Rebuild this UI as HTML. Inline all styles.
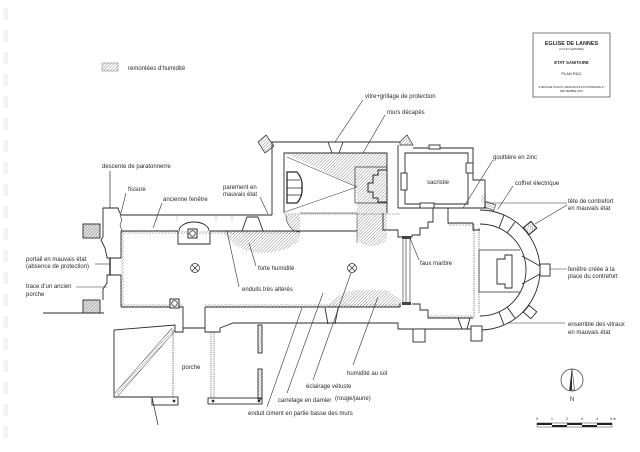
<!DOCTYPE html>
<html><head><meta charset="utf-8">
<style>
html,body{margin:0;padding:0;background:#fff;}
svg{display:block;}
text{font-family:"Liberation Sans",sans-serif;fill:#2a2a2a;}
</style></head><body>
<svg width="640" height="452" viewBox="0 0 640 452" xmlns="http://www.w3.org/2000/svg">
<defs>
<pattern id="h" patternUnits="userSpaceOnUse" width="2.2" height="2.2" patternTransform="rotate(45)">
<line x1="0" y1="0" x2="0" y2="2.2" stroke="#4a4a4a" stroke-width="0.6"/>
</pattern>
</defs>
<rect width="640" height="452" fill="#fff"/>

<!-- binding marks -->
<g fill="#f3f3f3">
<rect x="3" y="8" width="5" height="12" rx="1"/><rect x="3" y="30" width="5" height="12" rx="1"/>
<rect x="3" y="52" width="5" height="12" rx="1"/><rect x="3" y="74" width="5" height="12" rx="1"/>
<rect x="3" y="96" width="5" height="12" rx="1"/><rect x="3" y="118" width="5" height="12" rx="1"/>
<rect x="3" y="140" width="5" height="12" rx="1"/><rect x="3" y="162" width="5" height="12" rx="1"/>
<rect x="3" y="184" width="5" height="12" rx="1"/><rect x="3" y="206" width="5" height="12" rx="1"/>
<rect x="3" y="228" width="5" height="12" rx="1"/><rect x="3" y="250" width="5" height="12" rx="1"/>
<rect x="3" y="272" width="5" height="12" rx="1"/><rect x="3" y="294" width="5" height="12" rx="1"/>
<rect x="3" y="316" width="5" height="12" rx="1"/><rect x="3" y="338" width="5" height="12" rx="1"/>
<rect x="3" y="360" width="5" height="12" rx="1"/><rect x="3" y="382" width="5" height="12" rx="1"/>
<rect x="3" y="404" width="5" height="12" rx="1"/><rect x="3" y="426" width="5" height="12" rx="1"/>
</g>

<!-- legend -->
<rect x="102" y="63" width="16" height="8" fill="url(#h)" stroke="#777" stroke-width="0.5"/>
<text x="128" y="70" font-size="6">remontées d'humidité</text>

<!-- title block -->
<rect x="533" y="33" width="77" height="64" fill="none" stroke="#444" stroke-width="0.7"/>
<g text-anchor="middle">
<text x="571.5" y="45" font-size="5.5" font-weight="bold">EGLISE DE LANNES</text>
<text x="571.5" y="50" font-size="2.6">(LOT-ET-GARONNE)</text>
<text x="571.5" y="64" font-size="4.3" font-weight="bold">ETAT SANITAIRE</text>
<text x="571.5" y="75" font-size="4">PLAN RDC</text>
<text x="571.5" y="88" font-size="2.7" textLength="66" lengthAdjust="spacingAndGlyphs">STEPHANE THOUIN, ARCHITECTE DU PATRIMOINE 47</text>
<text x="571.5" y="92" font-size="2.7">SEPTEMBRE 2007</text>
</g>

<!-- hatched areas -->
<g fill="url(#h)" stroke="none">
<path d="M222,231 H300 V238 Q292,252 262,253 Q236,252 222,231 Z"/>
<path d="M285,153 H387 V236 Q386,246 370,246 Q358,245 357,236 L357,187 Z"/>
<path d="M325,307 L344,292 Q368,288 388,291 L401,300 V307 Z"/>
<rect x="121" y="231" width="179" height="3"/>
<rect x="121" y="231" width="3" height="76"/>
<rect x="121" y="304" width="62" height="3"/>
<rect x="205" y="304" width="195" height="3"/>
<rect x="428" y="315" width="45" height="3"/>
<rect x="448" y="223" width="25" height="3"/>
<path d="M286,215 H300 V232 Q288,230 286,215 Z"/>
<path d="M115,393 L172,328 L175,331 L118,396 Z"/>
</g>

<g stroke="#2a2a2a" stroke-width="0.9" fill="none" stroke-linejoin="miter">
<!-- west buttresses -->
<rect x="83" y="224" width="17" height="14" fill="#e2e2e2"/>
<rect x="83" y="224" width="17" height="14" fill="url(#h)" stroke="none"/>
<rect x="83" y="300" width="17" height="13" fill="#e2e2e2"/>
<rect x="83" y="300" width="17" height="13" fill="url(#h)" stroke="none"/>
<!-- west facade -->
<path d="M121,215 L119,211 L118,208 H103 V237 L101,240 L105,248 L107,257 V258 H121"/>
<path d="M121,231 V258"/>
<path d="M110,258 V275" stroke-width="1.4"/>
<path d="M121,275 H107 V283 L103,289 V300"/>
<path d="M121,275 V307"/>
<path d="M43,313 H104"/>
<path d="M120,215 L122,220 L120,225 L122,231" stroke-width="0.6"/>
<!-- paratonnerre descent -->
<path d="M110,171 V208" stroke-width="0.7"/>

<!-- nave north -->
<path d="M121,215 H272"/>
<path d="M121,231 H178 M210,231 H357"/>
<path d="M178,231 V244 H210 V231"/>
<path d="M179,231 A15,9 0 0 1 209,231"/>
<path d="M242,231 L247,217 H258 L263,231"/>
<path d="M157,216 V221 M177,216 V221 M216,216 V221 M232,216 V221" stroke-width="0.5" stroke="#aaa"/>
<path d="M286,215 A14,17 0 0 0 300,232" stroke-width="0.6"/>

<!-- chapel north -->
<polygon points="258,142 266,135 274,146 265,153" fill="url(#h)" stroke-width="0.7"/>
<path d="M272,215 V142 H400"/>
<polygon points="400,142 407,135 413,145 400,145" fill="url(#h)" stroke-width="0.7"/>
<path d="M284,213 V153 H387 V213"/>
<path d="M284,214 H400" stroke-dasharray="1.2,1" stroke-width="0.6"/>
<path d="M300,213 H357" stroke-width="0.5"/>
<path d="M328,142 L332,153 M343,142 L339,153 M332,142 H338" stroke-width="0.8"/>
<path d="M287,157 L357,187 M285,212 L357,187" stroke-width="0.5"/>
<path d="M287,172 H297 Q303,179 302,187 Q303,196 297,203 H287 Z" fill="#fff" stroke-width="1.3"/>
<path d="M287,180 H300 M287,188 H302 M287,195 H301" stroke-width="0.7"/>
<rect x="355" y="167" width="32" height="36" fill="none" stroke-width="0.7"/>
<path d="M387,170 H378 V175 H373 V183 H368 V192 H373 V198 H378 V202 H387" stroke-width="1"/>

<!-- sacristy -->
<path d="M398,145 V208"/>
<path d="M413,148 H473 V180 H485 V208 H398"/>
<path d="M405,153 H468 V204 H405 Z"/>
<rect x="401" y="173" width="6" height="17" fill="#fff"/>
<rect x="466" y="163" width="7" height="10" fill="#fff"/>
<rect x="429" y="145" width="11" height="4" fill="#fff"/>
<rect x="420" y="203" width="14" height="5" fill="#fff"/>

<!-- transept piers / chancel -->
<path d="M383,213 V230 H398 V237 H412 V235 H420 V228 H428 V222 H433 V208"/>
<path d="M357,213 V243" stroke-width="0.5"/>
<path d="M403,238 V303 M406,238 V303 M410,238 V303" stroke-width="0.6"/>
<rect x="402" y="236" width="9" height="3" fill="#444" stroke="none"/>
<rect x="402" y="302" width="9" height="3" fill="#444" stroke="none"/>
<path d="M412,304 H420 V310 H428 V318 H473"/>

<!-- choir & apse -->
<path d="M448,208 V223 H473 V230 H480"/>
<path d="M474,224 V318 M479,228 V313" stroke-dasharray="1.2,1" stroke-width="0.6"/>
<path d="M482,208 H487"/>
<path d="M480,224 A46,46 0 0 1 480,316"/>
<path d="M480,210 A60,60 0 0 1 480,330"/>
<path d="M499,228 L504,215 M507,233 L515,222"/>
<path d="M499,312 L504,325 M507,307 L515,318"/>
<path d="M522,256 L540,266 M522,284 L540,274"/>
<rect x="540" y="264" width="10" height="12" fill="#fff"/>
<g transform="translate(530,228) rotate(-40)"><rect x="-5" y="-4.5" width="10" height="9" fill="#fff"/><rect x="-5" y="-4.5" width="10" height="9" fill="url(#h)"/></g>
<g transform="translate(530,312) rotate(40)"><rect x="-5" y="-4.5" width="10" height="9" fill="#fff"/></g>
<g transform="translate(490,206) rotate(20)"><rect x="-5" y="-3" width="10" height="6" fill="url(#h)" stroke-width="0.6"/></g>
<rect x="481" y="195" width="5" height="8" fill="url(#h)" stroke="none"/>
<path d="M479,250 H520 M479,292 H520 M479,250 V292" stroke-width="0.7"/>
<path d="M512,255 H505 V259 H497 V284 H505 V288 H512 Z"/>

<!-- nave south -->
<path d="M121,307 H183 V332 H175 V325 L114,330 V397 H152"/>
<path d="M183,328 H205"/>
<path d="M205,307 H400 V303"/>
<path d="M205,307 V332 H220 V328 L233,323 H398 V329 H471"/>
<path d="M325,308 L328,324 M338,308 L335,324"/>
<rect x="413" y="329" width="12" height="13" fill="#fff"/>
<rect x="471" y="326" width="11" height="15" fill="#fff"/>
<path d="M458,318 L462,329 M470,318 L467,329"/>
<!-- porch -->
<path d="M173,330 V397" stroke-dasharray="1.2,1" stroke-width="0.7"/>
<path d="M115,393 L172,328 M118,396 L175,331" stroke-width="0.5"/>
<rect x="152" y="397" width="26" height="8" fill="#fff"/>
<circle cx="174" cy="401" r="0.9" fill="#2a2a2a"/>
<path d="M152,397 L158,425" stroke-width="0.7"/>
<!-- right porch structure -->
<path d="M211,332 V398 M214,332 V398" stroke-dasharray="1.2,1" stroke-width="0.6"/>
<rect x="208" y="398" width="54" height="6" fill="#fff"/>
<circle cx="213" cy="401" r="0.9" fill="#2a2a2a"/>
<circle cx="259" cy="401" r="0.9" fill="#2a2a2a"/>
<rect x="258" y="325" width="4" height="28" fill="url(#h)"/>
<rect x="258" y="369" width="4" height="30" fill="url(#h)"/>

<!-- symbols -->
<circle cx="195" cy="268" r="4.5" stroke-width="0.7"/>
<path d="M191.8,264.8 L198.2,271.2 M198.2,264.8 L191.8,271.2" stroke-width="0.7"/>
<circle cx="352" cy="268" r="4.5" stroke-width="0.7"/>
<path d="M348.8,264.8 L355.2,271.2 M355.2,264.8 L348.8,271.2" stroke-width="0.7"/>
<rect x="188" y="229" width="9" height="9" fill="#fff" stroke-width="1"/>
<circle cx="192.5" cy="233.5" r="2.8" stroke-width="0.8"/>
<rect x="170" y="299" width="9" height="9" fill="#fff" stroke-width="1"/>
<circle cx="174.5" cy="303.5" r="2.8" stroke-width="0.8"/>
</g>

<!-- leader lines -->
<g stroke="#333" stroke-width="0.6" fill="none">
<path d="M126,193 L121,213"/>
<path d="M162,203 L153,228"/>
<path d="M260,197 L268,214"/>
<path d="M256,266 L249,243"/>
<path d="M239,287 L227,231"/>
<path d="M95,264 H110"/>
<path d="M76,287 H107"/>
<path d="M363,100 L335,142"/>
<path d="M385,115 L363,153"/>
<path d="M493,160 L463,208"/>
<path d="M513,186 L498,209"/>
<path d="M487,203 H567"/>
<path d="M567,205 L535,224"/>
<path d="M419,260 L410,238"/>
<path d="M550,269 H567"/>
<path d="M507,323 H565"/>
<path d="M353,365 L378,297"/>
<path d="M313,380 L351,273"/>
<path d="M287,393 L323,293"/>
<path d="M267,407 L302,308"/>
</g>

<!-- labels -->
<g font-size="6">
<text x="102" y="168">descente de paratonnerre</text>
<text x="128" y="191">fissure</text>
<text x="163" y="201">ancienne fenêtre</text>
<text x="223" y="189">parement en</text>
<text x="223" y="196">mauvais état</text>
<text x="258" y="270">forte humidité</text>
<text x="242" y="291">enduits très altérés</text>
<text x="26" y="261">portail en mauvais état</text>
<text x="26" y="268">(absence de protection)</text>
<text x="26" y="288">trace d'un ancien</text>
<text x="26" y="296">porche</text>
<text x="365" y="98">vitre+grillage de protection</text>
<text x="387" y="114">murs décapés</text>
<text x="427" y="184">sacristie</text>
<text x="493" y="159">gouttière en zinc</text>
<text x="515" y="185">coffret électrique</text>
<text x="568" y="203">tête de contrefort</text>
<text x="568" y="210">en mauvais état</text>
<text x="420" y="265">faux marbre</text>
<text x="568" y="271">fenêtre créée à la</text>
<text x="568" y="278">place du contrefort</text>
<text x="568" y="326">ensemble des vitraux</text>
<text x="568" y="334">en mauvais état</text>
<text x="182" y="369">porche</text>
<text x="347" y="375">humidité au sol</text>
<text x="306" y="388">éclairage vétuste</text>
<text x="278" y="402">carrelage en damier</text>
<text x="335" y="400">(rouge/jaune)</text>
<text x="248" y="415">enduit ciment en partie basse des murs</text>
</g>

<!-- north arrow -->
<circle cx="572" cy="380" r="11" fill="none" stroke="#333" stroke-width="0.7"/>
<polygon points="572,369 574.5,390 569.5,390" fill="#fff" stroke="#333" stroke-width="0.6"/>
<polygon points="572,369 572,390 569.5,390" fill="#333"/>
<text x="572" y="401" font-size="6" text-anchor="middle">N</text>

<!-- scale bar -->
<g font-size="3.5" text-anchor="middle">
<text x="537" y="420">0</text><text x="552" y="420">1</text><text x="567" y="420">2</text>
<text x="582" y="420">3</text><text x="597" y="420">4</text><text x="613" y="420">5 m</text>
</g>
<rect x="537" y="423" width="75" height="4" fill="#fff" stroke="#333" stroke-width="0.5"/>
<rect x="537" y="423" width="15" height="2" fill="#222"/>
<rect x="567" y="423" width="15" height="2" fill="#222"/>
<rect x="597" y="423" width="15" height="2" fill="#222"/>
<rect x="552" y="425" width="15" height="2" fill="#222"/>
<rect x="582" y="425" width="15" height="2" fill="#222"/>
</svg>
</body></html>
